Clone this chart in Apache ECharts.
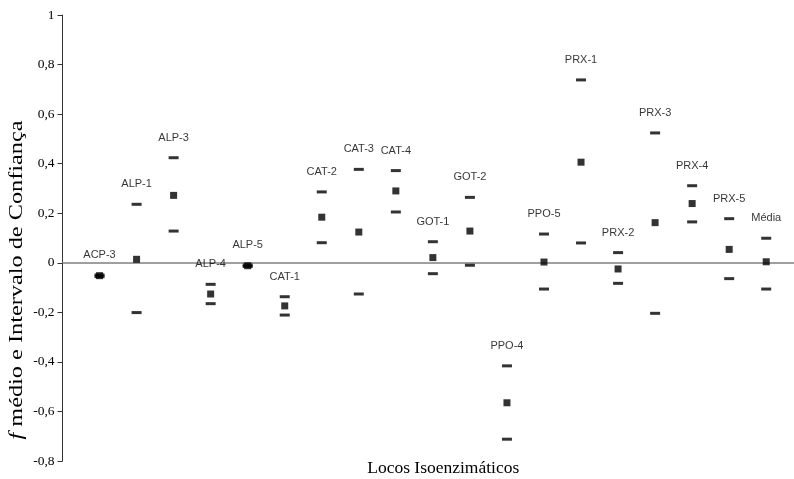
<!DOCTYPE html>
<html>
<head>
<meta charset="utf-8">
<script src="https://cdn.jsdelivr.net/npm/echarts@6/dist/echarts.min.js"></script>
<style>html,body{margin:0;padding:0;background:#fff;}#c{width:794px;height:479px;}</style>
</head>
<body>
<div id="c"></div>
<script>
var loci = ['ACP-3','ALP-1','ALP-3','ALP-4','ALP-5','CAT-1','CAT-2','CAT-3','CAT-4','GOT-1','GOT-2','PPO-4','PPO-5','PRX-1','PRX-2','PRX-3','PRX-4','PRX-5','Média'];
var fMean  = [-0.052, 0.014, 0.272, -0.126, -0.012, -0.174, 0.184, 0.124, 0.290, 0.021, 0.128, -0.565, 0.003, 0.406, -0.025, 0.162, 0.239, 0.054, 0.004];
var ciUpper = [-0.049, 0.236, 0.424, -0.087, -0.009, -0.137, 0.286, 0.377, 0.372, 0.085, 0.264, -0.416, 0.116, 0.738, 0.041, 0.524, 0.311, 0.178, 0.099];
var ciLower = [-0.056, -0.201, 0.128, -0.165, -0.015, -0.211, 0.081, -0.126, 0.205, -0.044, -0.010, -0.712, -0.106, 0.080, -0.083, -0.204, 0.165, -0.064, -0.106];
var yTicks = [-0.8, -0.6, -0.4, -0.2, 0, 0.2, 0.4, 0.6, 0.8, 1];
var yTitle = '{i|f} médio e Intervalo de Confiança';
var xTitle = 'Locos Isoenzimáticos';

function pts(arr){ return arr.map(function(v,i){ return [i+1, v]; }); }

var chart = echarts.init(document.getElementById('c'), null, {renderer:'canvas'});
chart.setOption({
  animation: false,
  backgroundColor: '#fff',
  grid: {left: 62.5, top: 15, right: 0, height: 446, containLabel: false, outerBoundsMode: 'none'},
  xAxis: {
    type: 'value', min: 0, max: 19.75,
    axisLine: {show: true, onZero: true, lineStyle: {color: '#808080', width: 1.5}},
    axisTick: {show: false}, axisLabel: {show: false}, splitLine: {show: false},
    name: xTitle, nameLocation: 'middle', nameGap: -2,
    nameTextStyle: {fontFamily: 'Liberation Serif', fontSize: 17.5, color: '#000', padding: [0, 0, 0, 30]}
  },
  yAxis: {
    type: 'value', min: -0.8, max: 1, interval: 0.2,
    axisLine: {show: true, onZero: false, lineStyle: {color: '#333', width: 1}},
    axisTick: {show: true, inside: false, length: 5, lineStyle: {color: '#333'}},
    splitLine: {show: false},
    axisLabel: {
      fontFamily: 'Liberation Serif', fontSize: 13.5, color: '#000', margin: 8,
      customValues: yTicks,
      formatter: function(v){ var r = Math.round(v*10)/10; return r === 0 ? '0' : String(r).replace('.', ','); }
    }
  },
  graphic: [{
    type: 'text', x: 17, y: 280, rotation: Math.PI/2, scaleX: 1.35, scaleY: 1,
    style: {text: yTitle, fontFamily: 'Liberation Serif', fontSize: 18, fill: '#000', align: 'center', verticalAlign: 'middle',
      rich: {i: {fontFamily: 'Liberation Serif', fontStyle: 'italic', fontSize: 18, fill: '#000'}}}
  }],
  series: [
    {type: 'scatter', name: 'upper', data: pts(ciUpper), symbol: 'rect', symbolSize: [10, 3],
     itemStyle: {color: '#000'},
     label: {show: true, position: 'top', distance: 13, fontFamily: 'Liberation Sans', fontSize: 11, color: '#000',
       formatter: function(p){ return loci[p.dataIndex]; }}},
    {type: 'scatter', name: 'lower', data: pts(ciLower), symbol: 'rect', symbolSize: [10, 3], itemStyle: {color: '#000'}},
    {type: 'scatter', name: 'mean', data: pts(fMean), symbol: 'rect', symbolSize: [7, 7], itemStyle: {color: '#000'}}
  ]
});
</script>
</body>
</html>
